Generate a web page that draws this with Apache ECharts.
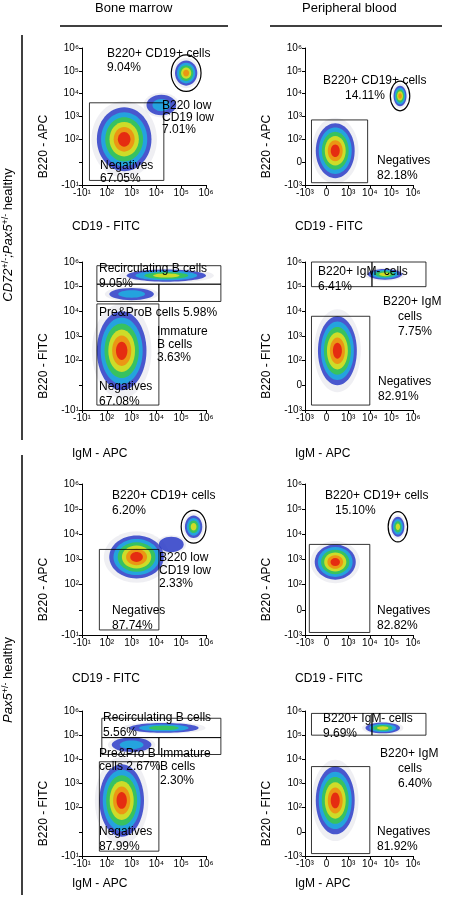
<!DOCTYPE html>
<html><head><meta charset="utf-8">
<script src="https://cdn.jsdelivr.net/npm/echarts@6/dist/echarts.min.js"></script>
<style>html,body{margin:0;background:#fff}#c{width:459px;height:900px}</style>
</head><body><div id="c"></div>
<script>
'use strict';

// tick labels
const bmTicksX = ['-10¹', '10²', '10³', '10⁴', '10⁵', '10⁶'];
const bmTicksY = ['-10¹', '', '10²', '10³', '10⁴', '10⁵', '10⁶'];
const pbTicksX = ['-10³', '0', '10³', '10⁴', '10⁵', '10⁶'];
const pbTicksY = ['-10³', '0', '10²', '10³', '10⁴', '10⁵', '10⁶'];

// populations: [x, y, rx, ry, levels]  (axis index units)
const pops1 = [[1.7, 2.0, 1.1, 1.4, 6], [3.2, 3.5, 0.6, 0.45, 2], [4.2, 4.9, 0.45, 0.55, 5]];
const pops2 = [[1.4, 1.5, 0.9, 1.2, 6], [4.4, 3.9, 0.3, 0.45, 5]];
const pops3 = [[1.6, 2.4, 1.0, 1.6, 6], [3.4, 5.45, 1.6, 0.25, 4], [2.0, 4.7, 0.9, 0.25, 2]];
const pops4 = [[1.5, 2.4, 0.9, 1.4, 6], [3.7, 5.5, 0.8, 0.22, 4]];
const pops5 = [[2.2, 3.1, 1.1, 0.85, 6], [4.5, 4.3, 0.35, 0.45, 4], [3.6, 3.6, 0.5, 0.3, 1]];
const pops6 = [[1.4, 2.9, 0.95, 0.7, 6], [4.3, 4.3, 0.3, 0.4, 4]];
const pops7 = [[1.6, 2.3, 0.9, 1.5, 6], [3.3, 5.3, 1.4, 0.2, 3], [2.0, 4.6, 0.8, 0.3, 2]];
const pops8 = [[1.4, 2.3, 0.9, 1.4, 6], [3.6, 5.3, 0.8, 0.22, 4]];

// gates: rects [x1, y1, x2, y2], ellipses [cx, cy, rx, ry]
const rects1 = [[0.3, 0.2, 3.3, 3.6]];
const lassos1 = [[4.2, 4.9, 0.6, 0.8]];
const rects2 = [[0.3, 0.1, 2.9, 2.85]];
const lassos2 = [[4.4, 3.9, 0.45, 0.65]];
const rects3 = [[0.6, 5.1, 5.6, 5.85], [0.6, 4.4, 3.1, 5.1], [3.1, 4.4, 5.6, 5.1], [0.6, 0.2, 3.1, 4.3]];
const rects4 = [[0.3, 5.0, 3.1, 6.0], [3.1, 5.0, 5.6, 6.0], [0.3, 0.2, 3.0, 3.8]];
const rects5 = [[0.7, 0.2, 3.1, 3.4]];
const lassos5 = [[4.5, 4.3, 0.5, 0.65]];
const rects6 = [[0.2, 0.1, 3.0, 3.6]];
const lassos6 = [[4.3, 4.3, 0.45, 0.6]];
const rects7 = [[0.8, 4.9, 5.6, 5.7], [0.8, 4.2, 3.1, 4.9], [3.1, 4.2, 5.6, 4.9], [0.7, 0.2, 3.1, 3.9]];
const rects8 = [[0.3, 5.0, 3.1, 5.9], [3.1, 5.0, 5.6, 5.9], [0.3, 0.1, 3.0, 3.7]];

// gate labels: [text, dx, dy] relative to plot top-left
const texts1 = [['B220+ CD19+ cells', 25, 0], ['9.04%', 25, 14], ['B220 low', 80, 52], ['CD19 low', 80, 64], ['7.01%', 80, 76], ['Negatives', 18, 112], ['67.05%', 18, 125]];
const texts2 = [['B220+ CD19+ cells', 18, 27], ['14.11%', 40, 42], ['Negatives', 72, 107], ['82.18%', 72, 122]];
const texts3 = [['Recirculating B cells', 17, 1], ['9.05%', 17, 16], ['Pre&ProB cells 5.98%', 17, 45], ['Immature', 75, 64], ['B cells', 75, 77], ['3.63%', 75, 90], ['Negatives', 17, 119], ['67.08%', 17, 134]];
const texts4 = [['B220+ IgM- cells', 13, 4], ['6.41%', 13, 19], ['B220+ IgM', 78, 34], ['cells', 93, 49], ['7.75%', 93, 64], ['Negatives', 73, 114], ['82.91%', 73, 129]];
const texts5 = [['B220+ CD19+ cells', 30, 6], ['6.20%', 30, 21], ['B220 low', 77, 68], ['CD19 low', 77, 81], ['2.33%', 77, 94], ['Negatives', 30, 121], ['87.74%', 30, 136]];
const texts6 = [['B220+ CD19+ cells', 20, 6], ['15.10%', 30, 21], ['Negatives', 72, 121], ['82.82%', 72, 136]];
const texts7 = [['Recirculating B cells', 21, 1], ['5.56%', 21, 16], ['Pre&Pro B', 17, 37], ['cells 2.67%', 17, 50], ['Immature', 78, 37], ['B cells', 78, 50], ['2.30%', 78, 64], ['Negatives', 17, 115], ['87.99%', 17, 130]];
const texts8 = [['B220+ IgM- cells', 18, 2], ['9.69%', 18, 17], ['B220+ IgM', 75, 37], ['cells', 93, 52], ['6.40%', 93, 67], ['Negatives', 72, 115], ['81.92%', 72, 130]];

const panels = [
    { left: 82, top: 48, w: 124, h: 137, xo: 36, tx: bmTicksX, ty: bmTicksY, xn: 'CD19 - FITC', yn: 'B220 - APC', pops: pops1, rects: rects1, lassos: lassos1, texts: texts1 },
    { left: 305, top: 48, w: 108, h: 137, xo: 36, tx: pbTicksX, ty: pbTicksY, xn: 'CD19 - FITC', yn: 'B220 - APC', pops: pops2, rects: rects2, lassos: lassos2, texts: texts2 },
    { left: 82, top: 262, w: 124, h: 148, xo: 38, tx: bmTicksX, ty: bmTicksY, xn: 'IgM - APC', yn: 'B220 - FITC', pops: pops3, rects: rects3, lassos: [], texts: texts3 },
    { left: 305, top: 262, w: 108, h: 148, xo: 38, tx: pbTicksX, ty: pbTicksY, xn: 'IgM - APC', yn: 'B220 - FITC', pops: pops4, rects: rects4, lassos: [], texts: texts4 },
    { left: 82, top: 484, w: 124, h: 151, xo: 38, tx: bmTicksX, ty: bmTicksY, xn: 'CD19 - FITC', yn: 'B220 - APC', pops: pops5, rects: rects5, lassos: lassos5, texts: texts5 },
    { left: 305, top: 484, w: 108, h: 151, xo: 38, tx: pbTicksX, ty: pbTicksY, xn: 'CD19 - FITC', yn: 'B220 - APC', pops: pops6, rects: rects6, lassos: lassos6, texts: texts6 },
    { left: 82, top: 711, w: 124, h: 145, xo: 22, tx: bmTicksX, ty: bmTicksY, xn: 'IgM - APC', yn: 'B220 - FITC', pops: pops7, rects: rects7, lassos: [], texts: texts7 },
    { left: 305, top: 711, w: 108, h: 145, xo: 22, tx: pbTicksX, ty: pbTicksY, xn: 'IgM - APC', yn: 'B220 - FITC', pops: pops8, rects: rects8, lassos: [], texts: texts8 },
];

const palette = ['#2c3cc8', '#1fb0e0', '#3cc84a', '#e8e020', '#f08a10', '#e41a10'];
const font = 'Liberation Sans, Arial, sans-serif';

const grids = [], xAxes = [], yAxes = [], series = [], graphic = [];

panels.forEach((p, i) => {
    grids.push({ left: p.left, top: p.top, width: p.w, height: p.h });
    const axisCommon = {
        type: 'value', gridIndex: i, min: 0, interval: 1, splitLine: { show: false },
        axisLine: { lineStyle: { color: '#000' } },
        axisTick: { lineStyle: { color: '#000' }, length: 3 },
        axisLabel: { color: '#000', fontSize: 10, fontFamily: font, margin: 3 },
    };
    xAxes.push(Object.assign({}, axisCommon, {
        max: p.tx.length - 1,
        axisLabel: Object.assign({}, axisCommon.axisLabel, { formatter: (v) => p.tx[v] }),
    }));
    yAxes.push(Object.assign({}, axisCommon, {
        max: p.ty.length - 1,
        axisLabel: Object.assign({}, axisCommon.axisLabel, { formatter: (v) => p.ty[v] }),
    }));

    // density clouds
    series.push({
        type: 'custom', xAxisIndex: i, yAxisIndex: i, silent: true, data: p.pops,
        renderItem: (params, api) => {
            const c = api.coord([api.value(0), api.value(1)]);
            const e = api.coord([api.value(0) + api.value(2), api.value(1) + api.value(3)]);
            const rx = Math.abs(e[0] - c[0]), ry = Math.abs(e[1] - c[1]);
            const n = api.value(4);
            const children = [{ type: 'ellipse', shape: { cx: c[0], cy: c[1], rx: rx * 1.2, ry: ry * 1.2 }, style: { fill: 'rgba(120,120,160,0.12)' } }];
            for (let k = 0; k < n; k++) {
                const f = 1 - k / (n + 0.5);
                children.push({ type: 'ellipse', shape: { cx: c[0], cy: c[1], rx: rx * f, ry: ry * f },
                    style: { fill: palette[k], opacity: 0.85 } });
            }
            return { type: 'group', children };
        },
    });
    // rectangular gates
    series.push({
        type: 'custom', xAxisIndex: i, yAxisIndex: i, silent: true, data: p.rects, z: 5,
        renderItem: (params, api) => {
            const a = api.coord([api.value(0), api.value(1)]);
            const b = api.coord([api.value(2), api.value(3)]);
            return { type: 'rect', shape: { x: a[0], y: b[1], width: b[0] - a[0], height: a[1] - b[1] },
                style: { fill: 'none', stroke: '#000', lineWidth: 0.8 } };
        },
    });
    // lasso gates
    series.push({
        type: 'custom', xAxisIndex: i, yAxisIndex: i, silent: true, data: p.lassos, z: 5,
        renderItem: (params, api) => {
            const c = api.coord([api.value(0), api.value(1)]);
            const e = api.coord([api.value(0) + api.value(2), api.value(1) + api.value(3)]);
            return { type: 'ellipse', shape: { cx: c[0], cy: c[1], rx: Math.abs(e[0] - c[0]), ry: Math.abs(e[1] - c[1]) },
                style: { fill: 'none', stroke: '#000', lineWidth: 1.2 } };
        },
    });

    p.texts.forEach(([t, dx, dy]) => {
        graphic.push({ type: 'text', left: p.left + dx, top: p.top + dy, z: 10,
            style: { text: t, fontSize: 12, fontFamily: font, fill: '#000' } });
    });
    graphic.push({ type: 'text', x: p.left - 38, y: p.top + p.h / 2 + 30, rotation: Math.PI / 2,
        style: { text: p.yn, fontSize: 12, fontFamily: font, fill: '#000', align: 'center', verticalAlign: 'middle' },
        originX: 0, originY: 0 });
    graphic.push({ type: 'text', left: p.left - 10, top: p.top + p.h + p.xo,
        style: { text: p.xn, fontSize: 12, fontFamily: font, fill: '#000' } });
});

// headers and row labels
graphic.push(
    { type: 'text', left: 95, top: 2, style: { text: 'Bone marrow', fontSize: 13, fontFamily: font, fill: '#000' } },
    { type: 'text', left: 302, top: 2, style: { text: 'Peripheral blood', fontSize: 13, fontFamily: font, fill: '#000' } },
    { type: 'line', shape: { x1: 60, y1: 26, x2: 228, y2: 26 }, style: { stroke: '#000', lineWidth: 1.5 } },
    { type: 'line', shape: { x1: 270, y1: 26, x2: 442, y2: 26 }, style: { stroke: '#000', lineWidth: 1.5 } },
    { type: 'line', shape: { x1: 22, y1: 35, x2: 22, y2: 440 }, style: { stroke: '#000', lineWidth: 1.5 } },
    { type: 'line', shape: { x1: 22, y1: 455, x2: 22, y2: 895 }, style: { stroke: '#000', lineWidth: 1.5 } },
    { type: 'text', x: 8, y: 235, rotation: Math.PI / 2, originX: 0, originY: 0,
        style: { text: '{i|CD72}{s|+/-}{i|;Pax5}{s|+/-} healthy', fontSize: 13, fontFamily: font, fill: '#000', align: 'center', verticalAlign: 'middle',
            rich: { i: { fontStyle: 'italic', fontSize: 13, fontFamily: font }, s: { fontSize: 9, verticalAlign: 'top', fontFamily: font } } } },
    { type: 'text', x: 8, y: 680, rotation: Math.PI / 2, originX: 0, originY: 0,
        style: { text: '{i|Pax5}{s|+/-} healthy', fontSize: 13, fontFamily: font, fill: '#000', align: 'center', verticalAlign: 'middle',
            rich: { i: { fontStyle: 'italic', fontSize: 13, fontFamily: font }, s: { fontSize: 9, verticalAlign: 'top', fontFamily: font } } } }
);

const chart = echarts.init(document.getElementById('c'));
chart.setOption({ animation: false, grid: grids, xAxis: xAxes, yAxis: yAxes, series, graphic });
</script>
</body></html>
